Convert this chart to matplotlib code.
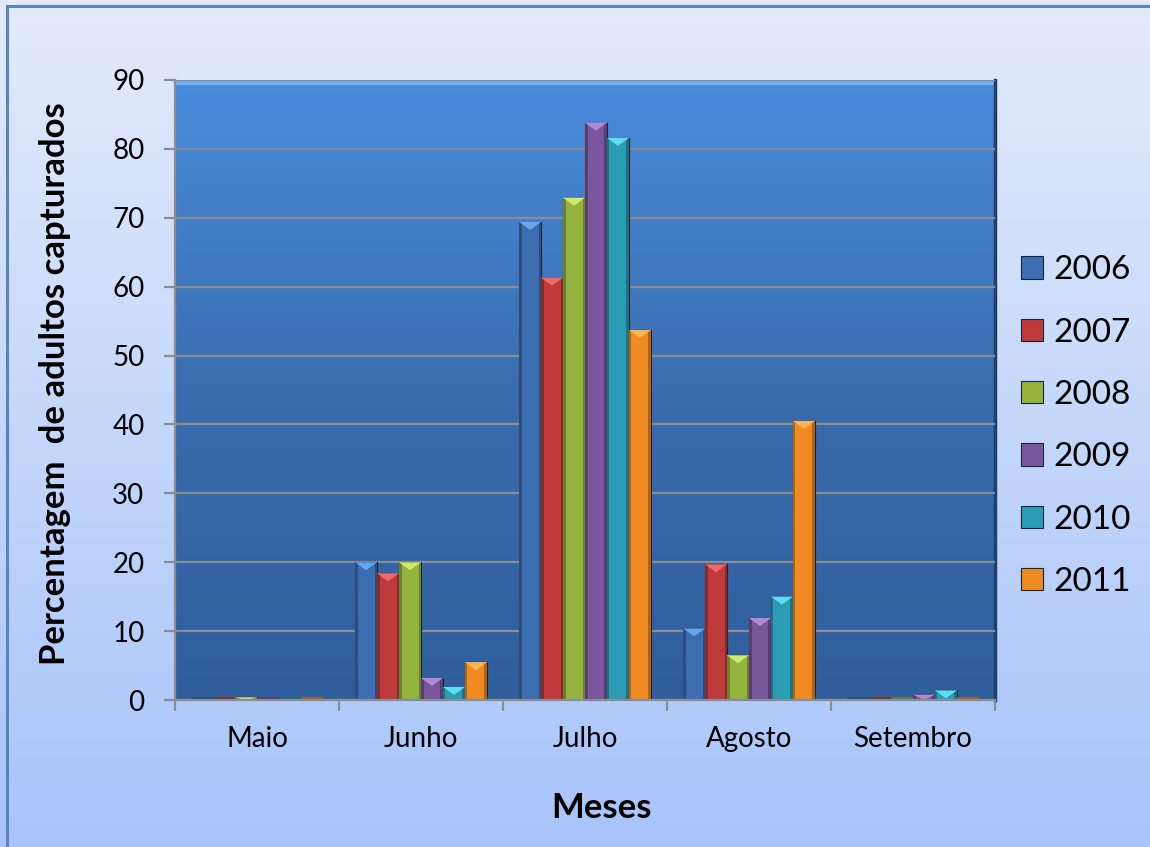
import numpy as np
import matplotlib
matplotlib.use("Agg")
import matplotlib.pyplot as plt
from matplotlib.colors import LinearSegmentedColormap, to_rgb
from matplotlib.patches import Rectangle, Polygon, Patch

plt.rcParams['font.family'] = ['Lato', 'DejaVu Sans']

# ---- data ----
months = ["Maio", "Junho", "Julho", "Agosto", "Setembro"]
years = ["2006", "2007", "2008", "2009", "2010", "2011"]
v2006 = [0.0, 20.0, 69.4, 10.4, 0.0]
v2007 = [0.0, 18.4, 61.3, 19.7, 0.0]
v2008 = [0.4, 20.0, 72.9, 6.5, 0.0]
v2009 = [0.0, 3.2, 83.8, 11.9, 0.8]
v2010 = [0.0, 1.9, 81.6, 15.0, 1.4]
v2011 = [0.0, 5.5, 53.7, 40.5, 0.0]
series = [v2006, v2007, v2008, v2009, v2010, v2011]
yticks = list(range(0, 91, 10))

# body colours and highlight colours of the bevelled bars
body = ["#3b6db0", "#c0393b", "#94b43e", "#7a569c", "#2a9db5", "#f08a22"]
light = ["#66a6ee", "#ec6a6c", "#cdea6c", "#b08ad6", "#5ddcf2", "#fdb657"]

W, H = 1150, 847
fig = plt.figure(figsize=(W / 100, H / 100), dpi=100)

# figure background: vertical light-blue gradient with a thin border
bg = fig.add_axes([0, 0, 1, 1], zorder=-10)
bg_cmap = LinearSegmentedColormap.from_list("bg", ["#a7c4fa", "#e3ebfb"])
bg.imshow(np.linspace(0, 1, 256)[::-1].reshape(-1, 1), cmap=bg_cmap,
          extent=[0, 1, 0, 1], aspect="auto", origin="upper")
bg.set_xlim(0, 1)
bg.set_ylim(0, 1)
bg.axis("off")
bg.add_patch(Rectangle((7 / W, -0.01), 1.0, 1 - 6 / H + 0.01, fill=False,
                       edgecolor="#5b84bd", linewidth=2.2))

# plot area
ax = fig.add_axes([175 / W, 147 / H, 820 / W, 620 / H])
pa_cmap = LinearSegmentedColormap.from_list("pa", ["#305e9c", "#3a6dae", "#4a8cdb"])
ax.imshow(np.linspace(0, 1, 256)[::-1].reshape(-1, 1), cmap=pa_cmap,
          extent=[0.5, 5.5, 0, 90], aspect="auto", origin="upper", zorder=0)
ax.set_xlim(0.5, 5.5)
ax.set_ylim(0, 90)

x = np.arange(1, len(months) + 1)
w = 0.134
px_per_unit = 620 / 90
bevel_h = 8 / px_per_unit
side_w = 2.5 / (820 / 5)

for i, vals in enumerate(series):
    pos = x + (i - 2.5) * w
    dark = tuple(c * 0.72 for c in to_rgb(body[i]))
    bars = ax.bar(pos, vals, width=w, color=body[i], edgecolor="#1d2433",
                  linewidth=0.8, zorder=3, label=years[i])
    for b in bars:
        x0 = b.get_x()
        x1 = x0 + b.get_width()
        top = b.get_height()
        if top <= 0:
            # an empty month still shows as a thin coloured line on the floor
            ax.plot([x0, x1], [0.3, 0.3], color=dark, lw=1.2, zorder=7,
                    solid_capstyle="butt")
            continue
        ax.add_patch(Rectangle((x0, 0), side_w, top, color=dark, lw=0, zorder=4))
        ax.add_patch(Rectangle((x1 - side_w, 0), side_w, top, color=dark, lw=0, zorder=4))
        hh = min(bevel_h, top)
        ax.add_patch(Polygon([(x0, top), (x1, top), ((x0 + x1) / 2, top - hh)],
                             closed=True, color=light[i], lw=0, zorder=5))

# grid, spines and ticks
ax.set_yticks(yticks)
ax.yaxis.grid(True, color="#8a8d94", linewidth=1.6, zorder=1)
ax.set_axisbelow(False)
for gl in ax.get_ygridlines():
    gl.set_zorder(1)
for side in ["top", "right"]:
    ax.spines[side].set_visible(False)
for side in ["left", "bottom"]:
    ax.spines[side].set_color("#8a8d94")
    ax.spines[side].set_linewidth(1.6)
    ax.spines[side].set_zorder(6)

ax.set_xticks(np.arange(0.5, len(months) + 1, 1.0))
ax.set_xticklabels([])
ax.set_xticks(x, minor=True)
ax.set_xticklabels(months, minor=True, fontsize=20)
ax.tick_params(axis="x", which="major", length=8, width=1.6, color="#8a8d94")
ax.tick_params(axis="x", which="minor", length=0, pad=19)
ax.tick_params(axis="y", length=8, width=1.6, color="#8a8d94", pad=14, labelsize=20)

# plot-area bevel: light top edge, dark right edge
ax.plot([0.5, 5.5], [89.6, 89.6], color="#6fb0f5", lw=3, zorder=2, solid_capstyle="butt")
ax.plot([5.5, 5.5], [0, 90], color="#203f6b", lw=2.5, zorder=2, clip_on=False)

# axis titles
fig.text(55 / W, 1 - 384 / H, "Percentagem  de adultos capturados", rotation=90,
         ha="center", va="center", fontsize=25, fontweight="bold")
fig.text(602 / W, 1 - 808 / H, "Meses", ha="center", va="center",
         fontsize=25, fontweight="bold")

# legend
handles = [Patch(facecolor=body[i], edgecolor="#1d2433", linewidth=0.8, label=years[i])
           for i in range(len(years))]
fig.legend(handles=handles, loc="center left", bbox_to_anchor=(1021 / W, 1 - 426 / H),
           frameon=False, fontsize=24, handlelength=0.66, handleheight=0.66,
           handletextpad=0.3, labelspacing=0.97, borderaxespad=0, borderpad=0)

fig.savefig("out.png", dpi=100)
